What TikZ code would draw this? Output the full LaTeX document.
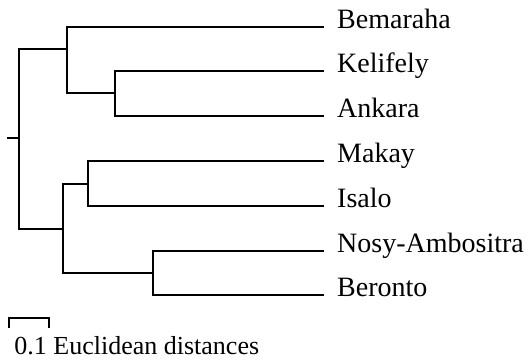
\documentclass[tikz,border=0pt]{standalone}
\usepackage{fontspec}
\setmainfont{Liberation Serif}
\begin{document}
\begin{tikzpicture}[x=1pt,y=-1pt,
  branch/.style={draw=black,line width=2pt,line join=miter,line cap=rect},
  leaflabel/.style={anchor=base west,inner sep=0pt,font=\fontsize{28}{30}\selectfont},
  scalelabel/.style={anchor=base west,inner sep=0pt,font=\fontsize{26}{28}\selectfont}]
\useasboundingbox (0,0) rectangle (529,362);
% leaves (line ends)
\coordinate (lBem) at (323,26.5);
\coordinate (lKel) at (323,71);
\coordinate (lAnk) at (323,116);
\coordinate (lMak) at (323,161);
\coordinate (lIsa) at (323,206);
\coordinate (lNos) at (323,250.7);
\coordinate (lBer) at (323,295);
% internal nodes (x of vertical bar, y of attachment)
\coordinate (stub) at (8,137.7);
\coordinate (root) at (19,137.7);
\coordinate (nA) at (66.7,49.3);
\coordinate (nKA) at (115,93.3);
\coordinate (nB) at (62.7,228.7);
\coordinate (nMI) at (87.7,183.7);
\coordinate (nNB) at (153.3,273.3);
% labels
\node[leaflabel] (tBem) at (337,28) {Bemaraha};
\node[leaflabel] (tKel) at (337,72.5) {Kelifely};
\node[leaflabel] (tAnk) at (337,117.5) {Ankara};
\node[leaflabel] (tMak) at (337,162.5) {Makay};
\node[leaflabel] (tIsa) at (337,207.5) {Isalo};
\node[leaflabel] (tNos) at (337,252.2) {Nosy-Ambositra};
\node[leaflabel] (tBer) at (337,296.5) {Beronto};
% branches
\draw[branch] (stub) -- (root);
\draw[branch] (root) |- (nA);
\draw[branch] (root) |- (nB);
\draw[branch] (nA) |- (lBem);
\draw[branch] (nA) |- (nKA);
\draw[branch] (nKA) |- (lKel);
\draw[branch] (nKA) |- (lAnk);
\draw[branch] (nB) |- (nMI);
\draw[branch] (nB) |- (nNB);
\draw[branch] (nMI) |- (lMak);
\draw[branch] (nMI) |- (lIsa);
\draw[branch] (nNB) |- (lNos);
\draw[branch] (nNB) |- (lBer);
% scale bar
\coordinate (sbL) at (9,327.7);
\coordinate (sbR) at (49,327.7);
\draw[branch,line cap=butt] (sbL) -- (9,318.3) -- (49,318.3) -- (sbR);
\node[scalelabel] (scale) at (14.2,354.3) {0.1 Euclidean distances};
\end{tikzpicture}
\end{document}
